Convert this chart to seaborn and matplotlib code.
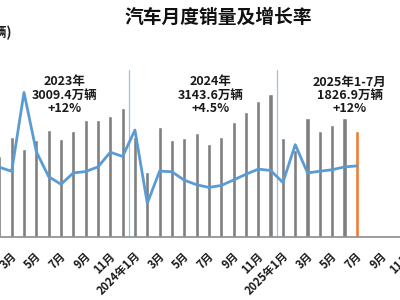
import matplotlib
matplotlib.use('Agg')
import matplotlib.pyplot as plt
import pandas as pd
import seaborn as sns
from matplotlib.transforms import blended_transform_factory, ScaledTranslation

# ---------------- data ----------------
years = [2023] * 12 + [2024] * 12 + [2025] * 7
months = list(range(1, 13)) * 2 + list(range(1, 8))
sales = [164.9, 197.6, 245.1, 215.9, 238.2, 262.2, 238.7, 258.2, 285.8, 285.3, 297.0, 315.6,
         243.9, 158.4, 269.4, 235.9, 241.7, 255.2, 226.2, 245.3, 280.9, 305.3, 331.6, 349.5,
         242.3, 212.9, 291.5, 259.0, 274.8, 290.4, 259.1]
growth = [-35.0, 13.5, 9.7, 82.7, 27.9, 4.8, -2.3, 8.2, 9.5, 13.8, 27.4, 23.5,
          47.9, -19.9, 9.9, 9.3, 1.5, -2.7, -5.2, -3.4, 1.7, 7.0, 11.7, 10.5,
          -0.6, 34.4, 8.2, 9.8, 11.2, 13.8, 14.7]
kind = ['历史'] * 30 + ['当月']
axis_years = [2023] * 12 + [2024] * 12 + [2025] * 12
axis_months = list(range(1, 13)) * 3
summary_labels = ['2023年\n3009.4万辆\n+12%', '2024年\n3143.6万辆\n+4.5%', '2025年1-7月\n1826.9万辆\n+12%']
summary_x = [6.3, 18.1, 29.4]
title = '汽车月度销量及增长率'
unit_label = '(万辆)'

# ---------------- style ----------------
sns.set_theme(style='white')
plt.rcParams['font.family'] = ['Noto Sans CJK SC', 'DejaVu Sans']
plt.rcParams['font.weight'] = 'bold'

W, H = 400, 300
fig = plt.figure(figsize=(W / 100, H / 100), dpi=100)

# pixel geometry (the chart is a crop of a wider chart)
x0_px, step_px = -13.0, 12.33
xlim = (-0.5, 35.5)
left_px = x0_px + step_px * xlim[0]
right_px = x0_px + step_px * xlim[1]
base_px, top_px = 236.7, 40.0
ax = fig.add_axes([left_px / W, (H - base_px) / H, (right_px - left_px) / W, (base_px - top_px) / H])

df = pd.DataFrame({'idx': range(len(sales)), 'sales': sales, 'growth': growth, 'kind': kind})

sns.barplot(data=df, x='idx', y='sales', hue='kind', native_scale=True,
            palette={'历史': '#7F7F7F', '当月': '#ED7D31'}, width=0.34, dodge=False,
            saturation=1, legend=False, ax=ax)

px_per_unit = 0.408
ax.set_ylim(0, (base_px - top_px) / px_per_unit)

ax2 = ax.twinx()
sns.lineplot(data=df, x='idx', y='growth', color='#5B9BD5', lw=2.0, ax=ax2)
zero_px, px_per_pct = 181.8, 1.08
ax2.set_ylim(-(base_px - zero_px) / px_per_pct, (zero_px - top_px) / px_per_pct)

for a in (ax, ax2):
    for s in a.spines.values():
        s.set_visible(False)
    a.set_yticks([])
    a.set_ylabel('')
    a.set_xlabel('')
ax.spines['bottom'].set_visible(True)
ax.spines['bottom'].set_color('#8C8C8C')
ax.spines['bottom'].set_linewidth(1.2)

ax.set_xlim(*xlim)
ticks = list(range(0, 36, 2))
labels = [f'{axis_years[i]}年1月' if axis_months[i] == 1 else f'{axis_months[i]}月' for i in ticks]
ax.set_xticks(ticks)
ax.set_xticklabels(labels, rotation=45, ha='right', va='center', rotation_mode='anchor',
                   fontsize=8, fontweight='bold', color='#1A1A1A')
ax.tick_params(axis='x', length=0, pad=12.5)
shift = ScaledTranslation(3 / 100, 0, fig.dpi_scale_trans)
for t in ax.get_xticklabels():
    t.set_transform(t.get_transform() + shift)

# year separators
sep_top = (base_px - 70) / (base_px - top_px)
for xs in (11.5, 23.5):
    ax.axvline(xs, ymin=0, ymax=sep_top, color='#9DC3E6', lw=0.9, zorder=0)

tr = blended_transform_factory(ax.transData, fig.transFigure)
for lab, xs in zip(summary_labels, summary_x):
    ax.text(xs, 1 - 95.5 / H, lab, transform=tr, ha='center', va='center', fontsize=9,
            fontweight='bold', color='#1A1A1A', linespacing=1.05)

fig.text(218 / W, 1 - 17 / H, title, ha='center', va='center', fontsize=13.5,
         fontweight='bold', color='#111111')
fig.text(12 / W, 1 - 33 / H, unit_label, ha='right', va='center', fontsize=9.5,
         fontweight='bold', color='#1A1A1A')

fig.savefig('out.png', dpi=100)
